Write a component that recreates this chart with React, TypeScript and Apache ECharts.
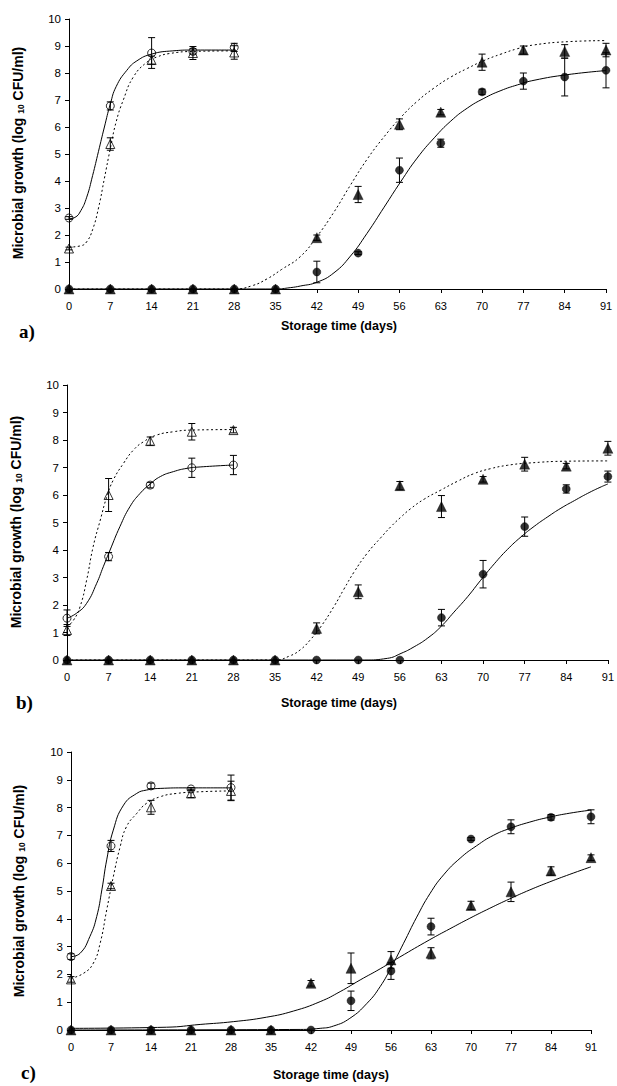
import React, { useEffect, useRef } from "react";
import * as echarts from "echarts";

// ---------- data ----------
const allDays = [0, 7, 14, 21, 28, 35, 42, 49, 56, 63, 70, 77, 84, 91];
const earlyDays = [0, 7, 14, 21, 28];
const yTicks = [0, 1, 2, 3, 4, 5, 6, 7, 8, 9, 10];

// Panel a
const aOpenCircle = [2.63, 6.78, 8.74, 8.8, 8.95];
const aOpenCircleErr = [0.05, 0.15, 0.57, 0.1, 0.15];
const aOpenTriangle = [1.5, 5.37, 8.48, 8.74, 8.76];
const aOpenTriangleErr = [0.05, 0.23, 0.15, 0.24, 0.25];
const aFilledCircle = [0, 0, 0, 0, 0, 0, 0.63, 1.33, 4.4, 5.4, 7.3, 7.7, 7.85, 8.1];
const aFilledCircleErr = [0, 0, 0, 0, 0, 0, 0.4, 0.05, 0.45, 0.15, 0.1, 0.3, 0.7, 0.65];
const aFilledTriangle = [0, 0, 0, 0, 0, 0, 1.9, 3.5, 6.1, 6.55, 8.4, 8.85, 8.8, 8.85];
const aFilledTriangleErr = [0, 0, 0, 0, 0, 0, 0.1, 0.3, 0.2, 0.1, 0.3, 0.15, 0.25, 0.25];
const aCurveEarlySolid = [[0, 2.6], [1, 2.65], [2, 2.9], [3, 3.4], [4, 4.2], [5, 5.1], [6, 6.0], [7, 6.85], [8, 7.5], [9.8, 8.1], [11.5, 8.45], [14, 8.7], [17.6, 8.82], [21, 8.85], [28, 8.85]];
const aCurveEarlyDotted = [[0, 1.55], [2, 1.6], [3, 1.75], [4, 2.2], [5, 3.0], [6, 4.1], [7, 5.2], [8, 6.2], [9.2, 7.0], [10.9, 7.85], [13.2, 8.4], [15, 8.6], [17, 8.72], [21, 8.8], [28, 8.82]];
const aCurveLateSolid = [[0, 0], [35, 0], [37.5, 0.05], [39.2, 0.11], [42, 0.25], [44.9, 0.6], [47.7, 1.22], [50.5, 2.06], [53.4, 3.03], [56.2, 3.97], [59, 4.85], [61.9, 5.6], [64.7, 6.22], [67.5, 6.7], [70.3, 7.06], [73.2, 7.35], [76, 7.56], [78.8, 7.73], [84.5, 7.94], [91, 8.09]];
const aCurveLateDotted = [[0, 0], [28, 0], [31, 0.12], [33.6, 0.38], [36, 0.72], [39.2, 1.2], [42, 1.94], [44.9, 2.85], [47.7, 3.85], [50.5, 4.8], [53.4, 5.64], [56.2, 6.35], [59, 6.95], [61.9, 7.45], [64.7, 7.85], [67.5, 8.17], [70.3, 8.46], [73.2, 8.7], [76, 8.9], [78.8, 9.04], [84.5, 9.16], [91, 9.2]];

// Panel b
const bOpenCircle = [1.52, 3.76, 6.36, 6.99, 7.09];
const bOpenCircleErr = [0.3, 0.15, 0.1, 0.35, 0.35];
const bOpenTriangle = [1.09, 6.0, 7.96, 8.3, 8.36];
const bOpenTriangleErr = [0.2, 0.6, 0.15, 0.3, 0.1];
const bFilledCircle = [0, 0, 0, 0, 0, 0, 0, 0, 0, 1.54, 3.12, 4.85, 6.22, 6.67];
const bFilledCircleErr = [0, 0, 0, 0, 0, 0, 0, 0, 0, 0.3, 0.5, 0.35, 0.15, 0.2];
const bFilledTriangle = [0, 0, 0, 0, 0, 0, 1.15, 2.48, 6.34, 5.58, 6.57, 7.12, 7.05, 7.7];
const bFilledTriangleErr = [0, 0, 0, 0, 0, 0, 0.2, 0.25, 0.15, 0.4, 0.1, 0.25, 0.1, 0.25];
const bCurveEarlySolid = [[0, 1.52], [1.6, 1.7], [3.3, 2.06], [5, 2.79], [6.1, 3.39], [7.25, 4.0], [8.9, 4.85], [10.6, 5.58], [12.3, 6.06], [14, 6.4], [15.7, 6.67], [17.9, 6.85], [20.2, 6.97], [22.4, 7.02], [28, 7.09]];
const bCurveEarlyDotted = [[0, 1.21], [1.1, 1.45], [2.2, 1.94], [3.3, 2.9], [4.4, 4.12], [5.6, 5.09], [6.7, 5.94], [7.8, 6.55], [9.5, 7.15], [11.2, 7.64], [12.9, 7.94], [15.1, 8.18], [17.9, 8.3], [20.7, 8.36], [28, 8.38]];
const bCurveLateDotted = [[0, 0], [35, 0], [37.5, 0.15], [39.3, 0.38], [41, 0.75], [42.7, 1.21], [44.9, 1.94], [46.6, 2.58], [48.3, 3.2], [50.5, 3.88], [52.8, 4.45], [54.5, 4.85], [56.2, 5.2], [57.8, 5.5], [60.1, 5.85], [62.9, 6.18], [65.7, 6.5], [68.5, 6.78], [71.3, 6.96], [74.1, 7.08], [77.5, 7.16], [84.3, 7.23], [91, 7.24]];
const bCurveLateSolid = [[0, 0], [50, 0], [53.9, 0.06], [56.2, 0.24], [58.4, 0.48], [60.7, 0.8], [62.9, 1.21], [65.1, 1.74], [67.4, 2.3], [69.6, 2.9], [71.9, 3.5], [74.1, 4.02], [76.4, 4.48], [78.6, 4.86], [80.9, 5.21], [83.1, 5.52], [85.4, 5.8], [87.6, 6.06], [89.9, 6.3], [91, 6.4]];

// Panel c
const cOpenCircle = [2.64, 6.62, 8.78, 8.67, 8.72];
const cOpenCircleErr = [0.1, 0.2, 0.1, 0.05, 0.45];
const cOpenTriangle = [1.82, 5.18, 8.01, 8.51, 8.6];
const cOpenTriangleErr = [0.1, 0.1, 0.25, 0.15, 0.35];
const cFilledCircle = [0, 0, 0, 0, 0, 0, 0, 1.05, 2.12, 3.72, 6.87, 7.31, 7.65, 7.67];
const cFilledCircleErr = [0, 0, 0, 0, 0, 0, 0, 0.35, 0.3, 0.3, 0.05, 0.25, 0.1, 0.25];
const cFilledTriangle = [0, 0, 0, 0, 0, 0, 1.68, 2.22, 2.52, 2.76, 4.48, 4.97, 5.72, 6.2];
const cFilledTriangleErr = [0, 0, 0, 0, 0, 0, 0.1, 0.55, 0.3, 0.2, 0.15, 0.35, 0.15, 0.1];
const cCurveEarlySolid = [[0, 2.64], [1.6, 2.76], [3.3, 3.36], [4.5, 4.08], [5.4, 5.04], [6.25, 6.12], [7.4, 7.19], [9.2, 8.09], [11.5, 8.51], [13.2, 8.63], [15.6, 8.69], [20.2, 8.71], [28, 8.71]];
const cCurveEarlyDotted = [[0, 1.86], [2.2, 2.04], [3.9, 2.4], [5.1, 3.12], [6.25, 4.32], [7.4, 5.51], [8.6, 6.59], [9.7, 7.31], [11.5, 7.79], [13.2, 8.15], [15.6, 8.39], [18.5, 8.51], [22.6, 8.57], [28, 8.6]];
const cCurveLateTriangle = [[0, 0.06], [16.7, 0.1], [22.6, 0.2], [28.4, 0.3], [34.2, 0.46], [38.9, 0.68], [43.6, 1.02], [47.1, 1.38], [50.6, 1.8], [54.1, 2.2], [57.5, 2.62], [62.8, 3.25], [66.3, 3.64], [69.8, 4.02], [73.3, 4.38], [76.8, 4.72], [80.3, 5.04], [83.8, 5.33], [87.3, 5.6], [91, 5.87]];
const cCurveLateCircle = [[0, 0], [40.1, 0.02], [43.6, 0.06], [45.9, 0.14], [48.8, 0.42], [51.8, 0.96], [54.1, 1.56], [56.1, 2.28], [58.2, 3.12], [60.5, 4.06], [62.8, 4.9], [65.2, 5.58], [68.1, 6.18], [71, 6.63], [73.9, 7.0], [76.8, 7.25], [80.3, 7.48], [83.8, 7.66], [87.3, 7.8], [91, 7.91]];

const xTitle = "Storage time (days)";
const panelLabels = ["a)", "b)", "c)"];

// ---------- helpers ----------
const SANS = "Liberation Sans, Arial, sans-serif";
const SERIF = "Liberation Serif, Times New Roman, serif";
const DOT: number[] = [2, 2.5];

type Panel = {
  grid: { left: number; top: number; width: number; height: number };
  markers: { days: number[]; vals: number[]; errs: number[]; symbol: string; filled: boolean }[];
  curves: { pts: number[][]; dotted: boolean }[];
};

const panels: Panel[] = [
  {
    grid: { left: 69, top: 19, width: 537, height: 270 },
    markers: [
      { days: earlyDays, vals: aOpenCircle, errs: aOpenCircleErr, symbol: "circle", filled: false },
      { days: earlyDays, vals: aOpenTriangle, errs: aOpenTriangleErr, symbol: "triangle", filled: false },
      { days: allDays, vals: aFilledCircle, errs: aFilledCircleErr, symbol: "circle", filled: true },
      { days: allDays, vals: aFilledTriangle, errs: aFilledTriangleErr, symbol: "triangle", filled: true },
    ],
    curves: [
      { pts: aCurveEarlySolid, dotted: false },
      { pts: aCurveEarlyDotted, dotted: true },
      { pts: aCurveLateSolid, dotted: false },
      { pts: aCurveLateDotted, dotted: true },
    ],
  },
  {
    grid: { left: 67, top: 385, width: 541, height: 275 },
    markers: [
      { days: earlyDays, vals: bOpenCircle, errs: bOpenCircleErr, symbol: "circle", filled: false },
      { days: earlyDays, vals: bOpenTriangle, errs: bOpenTriangleErr, symbol: "triangle", filled: false },
      { days: allDays, vals: bFilledCircle, errs: bFilledCircleErr, symbol: "circle", filled: true },
      { days: allDays, vals: bFilledTriangle, errs: bFilledTriangleErr, symbol: "triangle", filled: true },
    ],
    curves: [
      { pts: bCurveEarlySolid, dotted: false },
      { pts: bCurveEarlyDotted, dotted: true },
      { pts: bCurveLateSolid, dotted: false },
      { pts: bCurveLateDotted, dotted: true },
    ],
  },
  {
    grid: { left: 71, top: 752, width: 520, height: 278 },
    markers: [
      { days: earlyDays, vals: cOpenCircle, errs: cOpenCircleErr, symbol: "circle", filled: false },
      { days: earlyDays, vals: cOpenTriangle, errs: cOpenTriangleErr, symbol: "triangle", filled: false },
      { days: allDays, vals: cFilledCircle, errs: cFilledCircleErr, symbol: "circle", filled: true },
      { days: allDays, vals: cFilledTriangle, errs: cFilledTriangleErr, symbol: "triangle", filled: true },
    ],
    curves: [
      { pts: cCurveEarlySolid, dotted: false },
      { pts: cCurveEarlyDotted, dotted: true },
      { pts: cCurveLateCircle, dotted: false },
      { pts: cCurveLateTriangle, dotted: false },
    ],
  },
];

function buildOption() {
  const grids: any[] = [];
  const xAxes: any[] = [];
  const yAxes: any[] = [];
  const series: any[] = [];
  const graphics: any[] = [];

  panels.forEach((p, i) => {
    grids.push({ ...p.grid, containLabel: false });
    xAxes.push({
      gridIndex: i,
      type: "value",
      min: 0,
      max: 91,
      interval: 7,
      axisLine: { show: true, onZero: false, lineStyle: { color: "#000", width: 1 } },
      axisTick: { show: true, inside: false, length: 4, lineStyle: { color: "#000", width: 1 } },
      axisLabel: { color: "#000", fontSize: 11, fontFamily: SANS, margin: 11 },
      splitLine: { show: false },
    });
    yAxes.push({
      gridIndex: i,
      type: "value",
      min: 0,
      max: 10,
      interval: 1,
      axisLine: { show: true, onZero: false, lineStyle: { color: "#000", width: 1 } },
      axisTick: { show: true, inside: false, length: 4, lineStyle: { color: "#000", width: 1 } },
      axisLabel: {
        color: "#000",
        fontSize: 11.5,
        fontFamily: SANS,
        margin: 8,
        formatter: (v: number) => (yTicks.includes(v) ? String(v) : ""),
      },
      splitLine: { show: false },
    });

    p.curves.forEach((c) => {
      series.push({
        type: "line",
        xAxisIndex: i,
        yAxisIndex: i,
        data: c.pts,
        smooth: 0.5,
        showSymbol: false,
        symbol: "none",
        clip: false,
        silent: true,
        z: 2,
        lineStyle: { color: "#000", width: 1, type: c.dotted ? DOT : "solid" },
      });
    });

    p.markers.forEach((m) => {
      const errData: number[][] = [];
      m.days.forEach((d, k) => {
        if (m.errs[k] > 0) errData.push([d, m.vals[k] - m.errs[k], m.vals[k] + m.errs[k]]);
      });
      series.push({
        type: "custom",
        xAxisIndex: i,
        yAxisIndex: i,
        data: errData,
        encode: { x: 0, y: [1, 2] },
        clip: false,
        silent: true,
        z: 3,
        renderItem: (params: any, api: any) => {
          const x = api.value(0);
          const top = api.coord([x, api.value(2)]);
          const bot = api.coord([x, api.value(1)]);
          const w = 3.5;
          const st = { stroke: "#000", lineWidth: 1 };
          return {
            type: "group",
            children: [
              { type: "line", shape: { x1: top[0], y1: top[1], x2: bot[0], y2: bot[1] }, style: st },
              { type: "line", shape: { x1: top[0] - w, y1: top[1], x2: top[0] + w, y2: top[1] }, style: st },
              { type: "line", shape: { x1: bot[0] - w, y1: bot[1], x2: bot[0] + w, y2: bot[1] }, style: st },
            ],
          };
        },
      });
      series.push({
        type: "scatter",
        xAxisIndex: i,
        yAxisIndex: i,
        data: m.days.map((d, k) => [d, m.vals[k]]),
        symbol: m.symbol,
        symbolSize: m.symbol === "triangle" ? (m.filled ? 10 : 9) : 8,
        clip: false,
        silent: true,
        z: 4,
        itemStyle: m.filled
          ? { color: "#000", borderColor: "#000", borderWidth: 0.5 }
          : { color: "rgba(255,255,255,0)", borderColor: "#000", borderWidth: 1 },
      });
    });
  });

  // axis titles and panel labels
  const xTitlePos = [
    [339, 326],
    [339, 703],
    [331, 1075],
  ];
  const yTitlePos = [
    [18, 153],
    [16, 522],
    [19, 891],
  ];
  const labelPos = [
    [19, 331],
    [16, 702],
    [21, 1072],
  ];
  for (let i = 0; i < 3; i++) {
    graphics.push({
      type: "text",
      x: xTitlePos[i][0],
      y: xTitlePos[i][1],
      silent: true,
      style: {
        text: xTitle,
        fill: "#000",
        fontFamily: SANS,
        fontSize: 12.5,
        fontWeight: "bold",
        align: "center",
        verticalAlign: "middle",
      },
    });
    graphics.push({
      type: "text",
      x: yTitlePos[i][0],
      y: yTitlePos[i][1],
      rotation: Math.PI / 2,
      silent: true,
      style: {
        text: "Microbial growth (log {s|10} CFU/ml)",
        fill: "#000",
        fontFamily: SANS,
        fontSize: 14,
        fontWeight: "bold",
        align: "center",
        verticalAlign: "middle",
        rich: {
          s: { fontFamily: SANS, fontSize: 8.5, fontWeight: "bold", fill: "#000", verticalAlign: "bottom" },
        },
      },
    });
    graphics.push({
      type: "text",
      x: labelPos[i][0],
      y: labelPos[i][1],
      silent: true,
      style: {
        text: panelLabels[i],
        fill: "#000",
        fontFamily: SERIF,
        fontSize: 19,
        fontWeight: "bold",
        align: "left",
        verticalAlign: "middle",
      },
    });
  }

  return {
    animation: false,
    backgroundColor: "#fff",
    grid: grids,
    xAxis: xAxes,
    yAxis: yAxes,
    series,
    graphic: graphics,
  };
}

export default function App() {
  const ref = useRef<HTMLDivElement>(null);
  useEffect(() => {
    document.body.style.margin = "0";
    if (!ref.current) return;
    const chart = echarts.init(ref.current, undefined, { renderer: "svg" });
    chart.setOption(buildOption() as any);
    return () => chart.dispose();
  }, []);
  return <div ref={ref} style={{ width: 617, height: 1086, background: "#fff" }} />;
}
